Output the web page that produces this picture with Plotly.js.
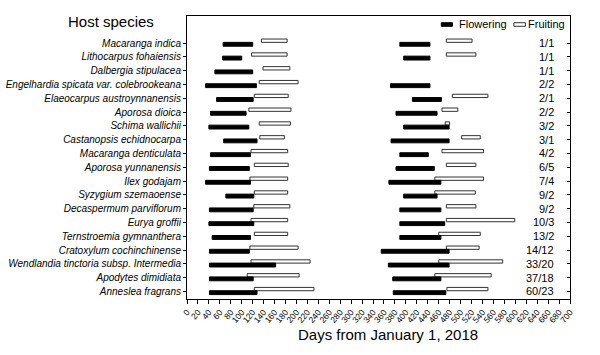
<!DOCTYPE html>
<html>
<head>
<meta charset="utf-8">
<script src="https://cdn.plot.ly/plotly-3.0.1.min.js"></script>
<style>html,body{margin:0;padding:0;background:#fff}#chart{width:600px;height:355px}</style>
</head>
<body>
<div id="chart"></div>
<script>
const species = ["Macaranga indica","Lithocarpus fohaiensis","Dalbergia stipulacea","Engelhardia spicata var. colebrookeana","Elaeocarpus austroynnanensis","Aporosa dioica","Schima wallichii","Castanopsis echidnocarpa","Macaranga denticulata","Aporosa yunnanensis","Ilex godajam","Syzygium szemaoense","Decaspermum parviflorum","Eurya groffii","Ternstroemia gymnanthera","Cratoxylum cochinchinense","Wendlandia tinctoria subsp. Intermedia","Apodytes dimidiata","Anneslea fragrans"];
const ratios = ["1/1","1/1","1/1","2/2","2/1","2/2","3/2","3/1","4/2","6/5","7/4","9/2","9/2","10/3","13/2","14/12","33/20","37/18","60/23"];
// first season (2018)
const flowerStart1 = [66,65,51,34,54,43,40,67,43,41,34,71,41,40,46,41,41,41,41];
const flowerEnd1   = [120,100,120,127,121,108,113,128,116,114,116,122,121,122,116,114,162,121,128];
const fruitStart1  = [136,118,139,132,123,113,132,133,117,123,115,123,122,117,123,115,117,110,123];
const fruitEnd1    = [183,183,188,203,185,190,189,178,184,185,184,184,188,184,184,203,225,205,232];
// second season (2019)
const flowerStart2 = [389,396,null,372,412,382,396,373,389,382,369,396,389,389,389,355,368,376,377];
const flowerEnd2   = [444,444,null,444,465,457,479,479,441,452,464,457,464,471,464,479,479,464,473];
const fruitStart2  = [474,474,null,null,485,466,472,502,466,474,453,453,474,474,460,474,460,453,475];
const fruitEnd2    = [521,528,null,null,550,495,480,536,542,528,542,527,528,599,536,534,577,556,550];

const idx = species.map((_, i) => i);
function seg(starts, ends) {
  const y = [], base = [], x = [];
  starts.forEach((s, i) => {
    if (s !== null && ends[i] !== null) { y.push(i); base.push(s); x.push(ends[i] - s); }
  });
  return {y, base, x};
}
function barTrace(s, name, fill, line, width, offset) {
  return {type:'bar', orientation:'h', y:s.y, x:s.x, base:s.base, name:name,
    width:width, offset:offset, marker:{color:fill, line:{color:line, width:1}},
    showlegend:false, hoverinfo:'skip'};
}
const fr1 = seg(fruitStart1, fruitEnd1), fr2 = seg(fruitStart2, fruitEnd2);
const fl1 = seg(flowerStart1, flowerEnd1), fl2 = seg(flowerStart2, flowerEnd2);
const traces = [
  barTrace(fr1, 'Fruiting', '#ffffff', '#333333', 0.24, -0.29),
  barTrace(fr2, 'Fruiting', '#ffffff', '#333333', 0.24, -0.29),
  barTrace(fl1, 'Flowering', '#000000', '#000000', 0.28, -0.05),
  barTrace(fl2, 'Flowering', '#000000', '#000000', 0.28, -0.05),
  {type:'scatter', x:[null], y:[null], yaxis:'y2', showlegend:false, hoverinfo:'skip'}
];
const font = 'Liberation Sans, Arial, sans-serif';
const yr = [18.55, -1.96];
const ratioNotes = ratios.map((r, i) => ({text:r, xref:'paper', yref:'y', x:0.963, y:i,
  xanchor:'right', yanchor:'middle', showarrow:false, font:{size:11, family:font}}));
const layout = {
  width:600, height:355,
  margin:{l:187, r:30, t:16, b:56},
  paper_bgcolor:'#fff', plot_bgcolor:'#fff',
  barmode:'overlay',
  font:{family:font, color:'#000'},
  xaxis:{range:[0,700], dtick:20, tick0:0, showgrid:false, zeroline:false,
    showline:true, linecolor:'#000', linewidth:1, mirror:true,
    ticks:'outside', ticklen:4, tickcolor:'#000', tickangle:-50,
    tickfont:{size:8.5, family:font}},
  yaxis:{range:yr, tickvals:idx, ticktext:species.map(s => '<i>' + s + '</i>'),
    showgrid:false, zeroline:false, showline:true, linecolor:'#000', linewidth:1, mirror:true,
    ticks:'outside', ticklen:3, tickcolor:'#000', tickfont:{size:10, family:font}},
  yaxis2:{range:yr, overlaying:'y', side:'right', tickvals:idx, showticklabels:false,
    showgrid:false, zeroline:false, showline:false, ticks:'inside', ticklen:3, tickcolor:'#000'},
  shapes:[
    {type:'rect', xref:'paper', yref:'paper', x0:0.664, x1:0.693, y0:0.9636, y1:0.9763,
      fillcolor:'#000', line:{color:'#000', width:1}},
    {type:'rect', xref:'paper', yref:'paper', x0:0.8535, x1:0.8836, y0:0.9636, y1:0.9763,
      fillcolor:'#fff', line:{color:'#333', width:1}}
  ],
  annotations:[
    {text:'Host species', xref:'paper', yref:'paper', x:-0.199, y:0.982, xanchor:'center', yanchor:'middle',
      showarrow:false, font:{size:15, family:font}},
    {text:'Days from January 1, 2018', xref:'paper', yref:'paper', x:0.524, y:-0.125, xanchor:'center', yanchor:'middle',
      showarrow:false, font:{size:15, family:font}},
    {text:'Flowering', xref:'paper', yref:'paper', x:0.705, y:0.970, xanchor:'left', yanchor:'middle',
      showarrow:false, font:{size:11, family:font}},
    {text:'Fruiting', xref:'paper', yref:'paper', x:0.885, y:0.970, xanchor:'left', yanchor:'middle',
      showarrow:false, font:{size:11, family:font}}
  ].concat(ratioNotes)
};
Plotly.newPlot('chart', traces, layout, {displayModeBar:false, staticPlot:true});
</script>
</body>
</html>
